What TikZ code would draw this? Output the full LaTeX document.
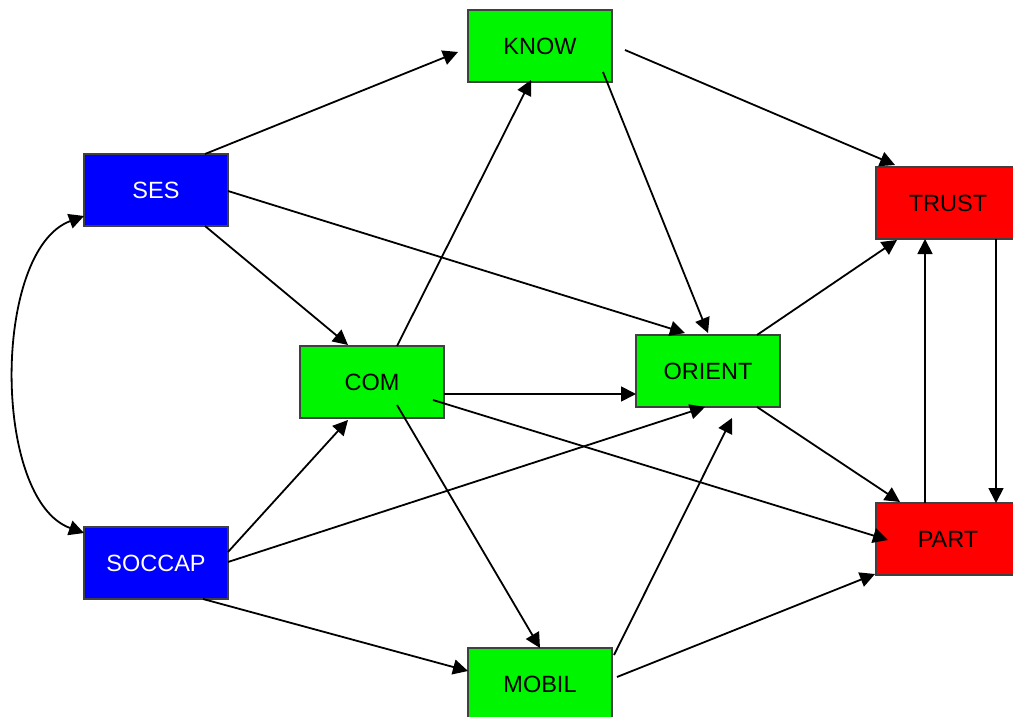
\documentclass[tikz,border=0pt]{standalone}
\usepackage{fontspec}
\setmainfont{Liberation Sans}
\usetikzlibrary{arrows.meta}
\definecolor{boxblue}{RGB}{0,0,255}
\definecolor{boxgreen}{RGB}{0,245,0}
\definecolor{boxred}{RGB}{255,0,0}
\begin{document}
\begin{tikzpicture}[x=1pt, y=-1pt,
  varbox/.style={draw=black!75, line width=1.5pt, minimum width=144pt,
    minimum height=72pt, inner sep=0pt, font=\fontsize{23.5}{27}\selectfont},
  exobox/.style={varbox, fill=boxblue, text=white},
  midbox/.style={varbox, fill=boxgreen, text=black},
  endbox/.style={varbox, fill=boxred, text=black},
  tip/.style={Triangle[length=15pt,width=15pt]},
  link/.style={line width=1.8pt, -{Triangle[length=15pt,width=15pt]}},
  twoway/.style={line width=1.8pt, {Triangle[length=15pt,width=15pt]}-{Triangle[length=15pt,width=15pt]}}]
\clip (0,0) rectangle (1013,717);
\useasboundingbox (0,0) rectangle (1013,717);

% variables
\node[exobox] (SES)    at (156,190) {SES};
\node[exobox] (SOCCAP) at (156,563) {SOCCAP};
\node[midbox] (KNOW)   at (540,46)  {KNOW};
\node[midbox] (COM)    at (372,382) {COM};
\node[midbox] (ORIENT) at (708,371) {ORIENT};
\node[midbox] (MOBIL)  at (540,684) {MOBIL};
\node[endbox] (TRUST)  at (948,203) {TRUST};
\node[endbox] (PART)   at (948,539) {PART};

% correlation between the exogenous variables
\draw[twoway] ([shift={(-72,26)}]SES.center)
  .. controls (-8,250) and (-8,500) .. ([shift={(-72,-30)}]SOCCAP.center);

% paths
\draw[link] ([shift={(49,-36)}]SES.center)    -- ([shift={(-82,6)}]KNOW.center);
\draw[link] ([shift={(85,4)}]KNOW.center)     -- ([shift={(-53,-38)}]TRUST.center);
\draw[link] ([shift={(63,26)}]KNOW.center)    -- ([shift={(0,-38)}]ORIENT.center);
\draw[link] ([shift={(72,1)}]SES.center)      -- ([shift={(-23,-38)}]ORIENT.center);
\draw[link] ([shift={(49,36)}]SES.center)     -- ([shift={(-24,-37)}]COM.center);
\draw[link] ([shift={(25,-36)}]COM.center)    -- ([shift={(-9,34)}]KNOW.center);
\draw[link] ([shift={(72,12)}]COM.center)     -- ([shift={(-72,23)}]ORIENT.center);
\draw[link] ([shift={(61,18)}]COM.center)     -- ([shift={(-60,1)}]PART.center);
\draw[link] ([shift={(25,23)}]COM.center)     -- ([shift={(0,-36)}]MOBIL.center);
\draw[link] ([shift={(72,-11)}]SOCCAP.center) -- ([shift={(-24,38)}]COM.center);
\draw[link] ([shift={(72,-1)}]SOCCAP.center)  -- ([shift={(-3,36)}]ORIENT.center);
\draw[link] ([shift={(47,36)}]SOCCAP.center)  -- ([shift={(-72,-13)}]MOBIL.center);
\draw[link] ([shift={(74,-29)}]MOBIL.center)  -- ([shift={(24,47)}]ORIENT.center);
\draw[link] ([shift={(77,-7)}]MOBIL.center)   -- ([shift={(-73,35)}]PART.center);
\draw[link] ([shift={(49,-36)}]ORIENT.center) -- ([shift={(-51,37)}]TRUST.center);
\draw[link] ([shift={(49,36)}]ORIENT.center)  -- ([shift={(-48,-37)}]PART.center);
\draw[link] ([shift={(-23,-36)}]PART.center)  -- ([shift={(-23,36)}]TRUST.center);
\draw[link] ([shift={(48,36)}]TRUST.center)   -- ([shift={(48,-36)}]PART.center);
\end{tikzpicture}
\end{document}
